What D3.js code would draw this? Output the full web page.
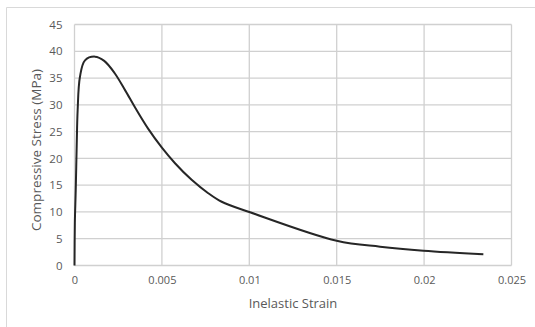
<!DOCTYPE html>
<html>
<head>
<meta charset="utf-8">
<script src="https://cdn.jsdelivr.net/npm/d3@7"></script>
<style>
  body { margin: 0; background: #fff; }
  text { font-family: "Open Sans", "Noto Sans", sans-serif; }
</style>
</head>
<body>
<div id="chart"></div>
<script>
// inelastic strain vs compressive stress (MPa)
const strain = [0, 0.00002, 0.00007, 0.00013, 0.00018, 0.00031, 0.0006, 0.00117, 0.0017, 0.0023, 0.0029, 0.0035, 0.0042, 0.005, 0.00575, 0.0067, 0.00765, 0.00842, 0.01004, 0.015, 0.01748, 0.01996, 0.02339];
const stress = [0, 8, 14, 23, 29, 35.2, 38.3, 39.0, 38.2, 35.9, 32.7, 29.3, 25.6, 22.0, 19.1, 16.0, 13.5, 11.9, 9.95, 4.62, 3.51, 2.76, 2.09];
const xTicks = [0, 0.005, 0.01, 0.015, 0.02, 0.025];
const yTicks = [0, 5, 10, 15, 20, 25, 30, 35, 40, 45];

const width = 535, height = 327;
const plotL = 74.5, plotR = 511.5, plotT = 24.5, plotB = 265.5;

const svg = d3.select("#chart").append("svg")
  .attr("width", width)
  .attr("height", height);

// chart area border (only left and top visible in the crop)
svg.append("path")
  .attr("d", `M6.5,${height} V7.5 H${width}`)
  .attr("fill", "none")
  .attr("stroke", "#d9d9d9")
  .attr("stroke-width", 1);

const x = d3.scaleLinear().domain([0, 0.025]).range([plotL, plotR]);
const y = d3.scaleLinear().domain([0, 45]).range([plotB, plotT]);

/* grid */
svg.append("g")
  .selectAll("line")
  .data(yTicks).enter()
  .append("line")
  .attr("x1", plotL).attr("x2", plotR)
  .attr("y1", d => y(d)).attr("y2", d => y(d))
  .attr("stroke", "#d0d0d0")
  .attr("stroke-width", 1.3);

svg.append("g")
  .selectAll("line")
  .data(xTicks).enter()
  .append("line")
  .attr("x1", d => x(d)).attr("x2", d => x(d))
  .attr("y1", plotT).attr("y2", plotB)
  .attr("stroke", "#d0d0d0")
  .attr("stroke-width", 1.3);

/* axes labels */
const xAxis = d3.axisBottom(x).tickValues(xTicks).tickSize(0).tickPadding(11)
  .tickFormat(d => d === 0 ? "0" : String(+d.toFixed(3)));
const yAxis = d3.axisLeft(y).tickValues(yTicks).tickSize(0).tickPadding(12)
  .tickFormat(d3.format("d"));

const gx = svg.append("g")
  .attr("transform", `translate(0, ${plotB})`)
  .call(xAxis);
const gy = svg.append("g")
  .attr("transform", `translate(${plotL}, 0)`)
  .call(yAxis);

[gx, gy].forEach(g => {
  g.select(".domain").remove();
  g.selectAll("text")
    .attr("fill", "#595959")
    .style("font-size", "11px");
});
gy.selectAll("text").style("font-size", "11.5px");

/* data line */
const pts = strain.map((s, i) => [s, stress[i]]);
const line = d3.line()
  .x(d => x(d[0]))
  .y(d => y(d[1]))
  .curve(d3.curveCatmullRom.alpha(0.5));

svg.append("path")
  .attr("d", line(pts))
  .attr("fill", "none")
  .attr("stroke", "#262626")
  .attr("stroke-width", 2)
  .attr("stroke-linejoin", "round");

/* titles */
svg.append("text")
  .attr("x", (plotL + plotR) / 2)
  .attr("y", 308)
  .attr("text-anchor", "middle")
  .attr("fill", "#595959")
  .style("font-size", "13px")
  .text("Inelastic Strain");

svg.append("text")
  .attr("transform", `translate(41, 150) rotate(-90)`)
  .attr("text-anchor", "middle")
  .attr("fill", "#595959")
  .style("font-size", "13.5px")
  .text("Compressive Stress (MPa)");
</script>
</body>
</html>
